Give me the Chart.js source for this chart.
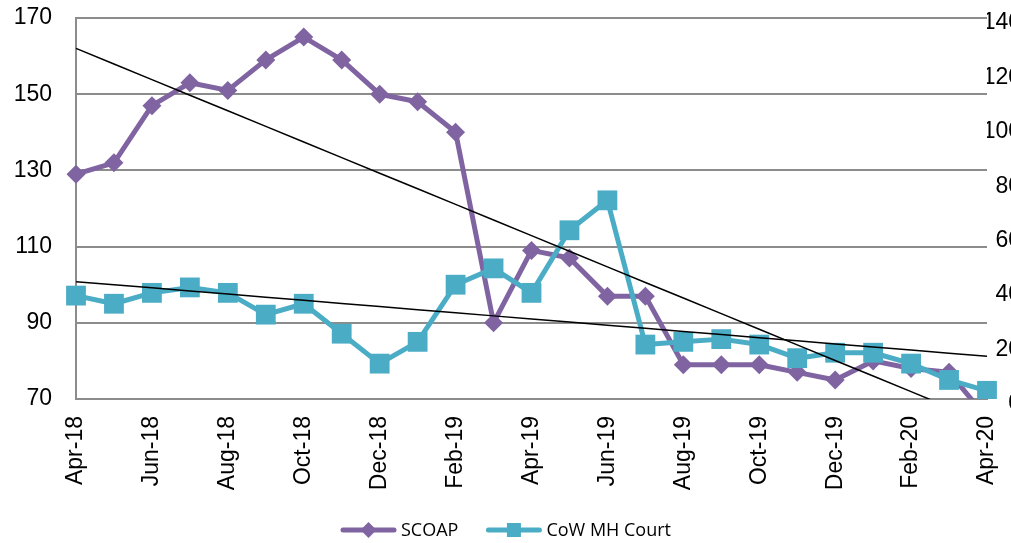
<!DOCTYPE html>
<html>
<head>
<meta charset="utf-8">
<script src="https://cdn.jsdelivr.net/npm/chart.js@4.4.1/dist/chart.umd.min.js"></script>
<style>
  body { margin: 0; overflow: hidden; background: #fff; }
  #wrap { width: 1021px; height: 543px; }
</style>
</head>
<body>
<div id="wrap"><canvas id="chart" width="1021" height="543"></canvas></div>
<script>
// monthly values
const months = ['Apr-18','May-18','Jun-18','Jul-18','Aug-18','Sep-18','Oct-18','Nov-18','Dec-18',
                'Jan-19','Feb-19','Mar-19','Apr-19','May-19','Jun-19','Jul-19','Aug-19','Sep-19',
                'Oct-19','Nov-19','Dec-19','Jan-20','Feb-20','Mar-20','Apr-20'];
const scoap    = [129,132,147,153,151,159,165,159,150,148,140,90,109,107,97,97,79,79,79,77,75,80,78,77,65];
// CoW MH Court sits on the secondary (right) axis
const cowCourt = [38,35,39,41,39,31,35,24,13,21,42,48,39,62,73,20,21,22,20,15,17,17,13,7,3];

const leftMin = 70, leftMax = 170, leftStep = 20;
const rightMin = 0, rightMax = 140, rightStep = 20;

const purple = '#8064A2';
const teal = '#4BACC6';
const gridCol = '#8c8c8c';

// excel style linear trendline (least squares)
function trend(vals) {
  var n = vals.length, sx = 0, sy = 0, sxy = 0, sxx = 0;
  vals.forEach((v, i) => { sx += i; sy += v; sxy += i * v; sxx += i * i; });
  var b = (n * sxy - sx * sy) / (n * sxx - sx * sx);
  var a = (sy - b * sx) / n;
  return vals.map((v, i) => a + b * i);
}

// fix an axis box size (chart.js doubles tick padding otherwise)
function fixSize(w, h) {
  return function (scale) {
    if (w != null) scale.width = w;
    if (h != null) scale.height = h;
    scale.paddingTop = 0; scale.paddingBottom = 0;
    scale.paddingLeft = 0; scale.paddingRight = 0;
  };
}

// legend drawn like excel: line with marker in the middle
const excelLegend = {
  id: 'excelLegend',
  afterDraw(chart) {
    const ctx = chart.ctx;
    const items = [
      { text: 'SCOAP', color: purple, shape: 'diamond' },
      { text: 'CoW MH Court', color: teal, shape: 'square' }
    ];
    const lineW = 55, gapText = 5, gapItem = 28, y = 530;
    ctx.save();
    ctx.font = '18px "Open Sans"';
    var total = 0;
    items.forEach((it, i) => { total += lineW + gapText + ctx.measureText(it.text).width + (i ? gapItem : 0); });
    var x = 506 - total / 2;
    items.forEach(it => {
      ctx.strokeStyle = it.color;
      ctx.fillStyle = it.color;
      ctx.lineWidth = 5;
      ctx.lineCap = 'round';
      ctx.beginPath();
      ctx.moveTo(x + 2, y);
      ctx.lineTo(x + lineW - 2, y);
      ctx.stroke();
      var cx = x + lineW / 2;
      ctx.beginPath();
      if (it.shape === 'diamond') {
        ctx.moveTo(cx, y - 8); ctx.lineTo(cx + 8, y); ctx.lineTo(cx, y + 8); ctx.lineTo(cx - 8, y);
      } else {
        ctx.rect(cx - 7, y - 7, 14, 14);
      }
      ctx.closePath();
      ctx.fill();
      ctx.fillStyle = '#000';
      ctx.textBaseline = 'middle';
      ctx.textAlign = 'left';
      ctx.fillText(it.text, x + lineW + gapText, y + 1);
      x += lineW + gapText + ctx.measureText(it.text).width + gapItem;
    });
    ctx.restore();
  }
};

const tickFont = { family: '"Liberation Sans", Arial, sans-serif', size: 23 };

new Chart(document.getElementById('chart'), {
  type: 'line',
  data: {
    labels: months,
    datasets: [
      { label: 'SCOAP trend', data: trend(scoap), yAxisID: 'y', borderColor: '#000', borderWidth: 1.5,
        pointRadius: 0, order: 0 },
      { label: 'CoW trend', data: trend(cowCourt), yAxisID: 'y1', borderColor: '#000', borderWidth: 1.5,
        pointRadius: 0, order: 0 },
      { label: 'CoW MH Court', data: cowCourt, yAxisID: 'y1', borderColor: teal, backgroundColor: teal,
        borderWidth: 5, borderJoinStyle: 'round', pointStyle: 'rect', pointRadius: 14,
        pointBorderWidth: 0, pointBackgroundColor: teal, order: 1 },
      { label: 'SCOAP', data: scoap, yAxisID: 'y', borderColor: purple, backgroundColor: purple,
        borderWidth: 5, borderJoinStyle: 'round', pointStyle: 'rectRot', pointRadius: 9.5,
        pointBorderWidth: 0, pointBackgroundColor: purple, order: 2 }
    ]
  },
  options: {
    responsive: false,
    animation: false,
    layout: { padding: { left: 13, top: 18, right: 0, bottom: 53 } },
    plugins: { legend: { display: false }, tooltip: { enabled: false } },
    scales: {
      x: {
        offset: false,
        grid: { display: false, drawTicks: false },
        border: { display: true, color: gridCol, width: 2 },
        afterFit: fixSize(null, 91),
        ticks: {
          autoSkip: false, minRotation: 90, maxRotation: 90, padding: 17,
          color: '#000', font: tickFont,
          callback: function (val, index) { return index % 2 === 0 ? this.getLabelForValue(val) : ''; }
        }
      },
      y: {
        position: 'left', min: leftMin, max: leftMax,
        grid: { color: gridCol, lineWidth: 2, drawTicks: false },
        border: { display: true, color: gridCol, width: 2 },
        afterFit: fixSize(63, null),
        ticks: { stepSize: leftStep, padding: 24, color: '#000', font: tickFont }
      },
      y1: {
        position: 'right', min: rightMin, max: rightMax,
        grid: { display: false, drawTicks: false },
        border: { display: false },
        afterFit: fixSize(34, null),
        ticks: { stepSize: rightStep, padding: -5, crossAlign: 'far', labelOffset: 5,
                 color: '#000', font: tickFont }
      }
    }
  },
  plugins: [excelLegend]
});
</script>
</body>
</html>
